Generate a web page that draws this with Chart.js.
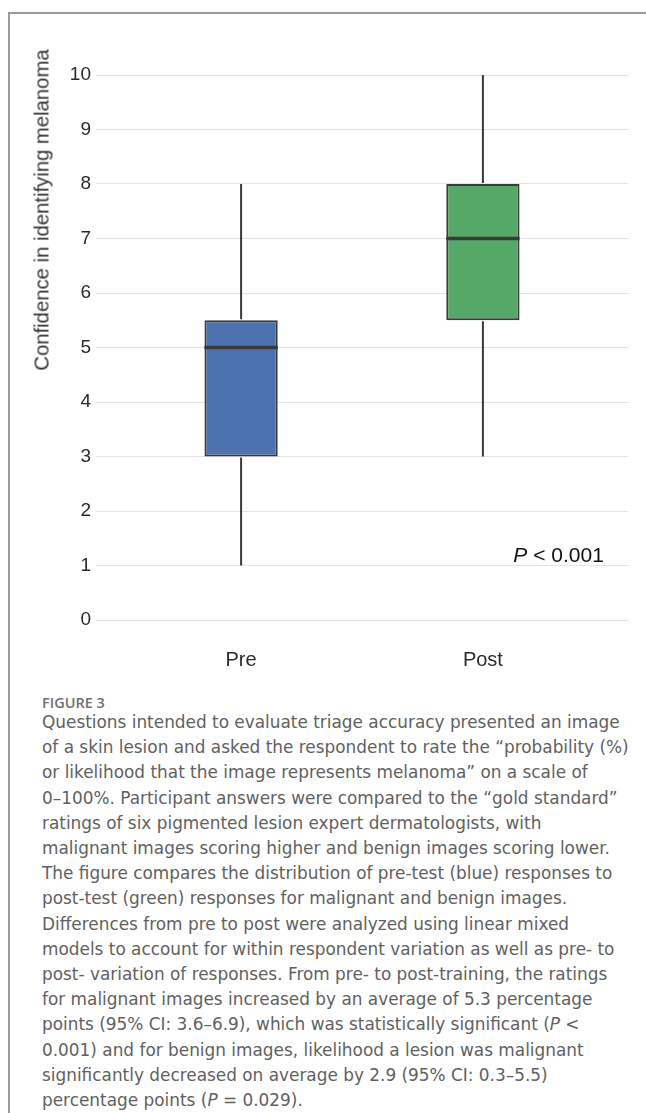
<!DOCTYPE html>
<html>
<head>
<meta charset="utf-8">
<script src="https://cdn.jsdelivr.net/npm/chart.js@4.4.1/dist/chart.umd.min.js"></script>
<style>
  html, body { margin: 0; padding: 0; background: #ffffff; }
  body { width: 646px; height: 1113px; position: relative; overflow: hidden; }
  #frame { position: absolute; left: 8px; top: 12px; width: 700px; height: 1200px;
           border-left: 2px solid #9a9a9a; border-top: 2px solid #9a9a9a; }
  #wrap { position: absolute; left: 0; top: 0; width: 646px; height: 690px; }
  #ytitle { position: absolute; left: 41.5px; top: 209.5px; white-space: nowrap;
            transform: translate(-50%, -50%) rotate(-90deg);
            font-family: "Liberation Sans", Arial, sans-serif; font-weight: 400; font-size: 20.3px; color: #333; }
  #figlabel { position: absolute; left: 42px; top: 695px; font-family: "Open Sans", sans-serif;
              font-weight: 600; font-size: 14.5px; line-height: 16px; color: #707070; }
  #caption { position: absolute; left: 42px; top: 710px; font-family: "DejaVu Sans", sans-serif;
             font-weight: 400; font-size: 16.9px; line-height: 25.2px; color: #616161; }
  #caption div { white-space: nowrap; }
</style>
</head>
<body>
<div id="frame"></div>
<div id="wrap"><canvas id="c" width="646" height="690"></canvas></div>
<div id="ytitle">Confidence in identifying melanoma</div>
<div id="figlabel">FIGURE 3</div>
<div id="caption">
<div>Questions intended to evaluate triage accuracy presented an image</div>
<div>of a skin lesion and asked the respondent to rate the “probability (%)</div>
<div>or likelihood that the image represents melanoma” on a scale of</div>
<div>0–100%. Participant answers were compared to the “gold standard”</div>
<div>ratings of six pigmented lesion expert dermatologists, with</div>
<div>malignant images scoring higher and benign images scoring lower.</div>
<div>The figure compares the distribution of pre-test (blue) responses to</div>
<div>post-test (green) responses for malignant and benign images.</div>
<div>Differences from pre to post were analyzed using linear mixed</div>
<div>models to account for within respondent variation as well as pre- to</div>
<div>post- variation of responses. From pre- to post-training, the ratings</div>
<div>for malignant images increased by an average of 5.3 percentage</div>
<div>points (95% CI: 3.6–6.9), which was statistically significant (<i>P</i> &lt;</div>
<div>0.001) and for benign images, likelihood a lesion was malignant</div>
<div>significantly decreased on average by 2.9 (95% CI: 0.3–5.5)</div>
<div>percentage points (<i>P</i> = 0.029).</div>
</div>
<script>
// ---- data ----
const categories = ['Pre', 'Post'];
const positions = [1, 2];
const whiskerLow = [1, 3];
const q1 = [3, 5.5];
const median = [5, 7];
const q3 = [5.5, 8];
const whiskerHigh = [8, 10];
const boxColors = ['#4C72B0', '#55A868'];
const yTicks = [0, 1, 2, 3, 4, 5, 6, 7, 8, 9, 10];
const pValueItalic = 'P';
const pValueRest = ' < 0.001';
const pValuePos = { x: 2.5, y: 1 };

const edgeColor = '#3a3a3a';

const boxData = positions.map((p, i) => ({ x: p, y: [q1[i], q3[i]] }));

const boxPlugin = {
  id: 'boxExtras',
  afterDatasetsDraw(chart) {
    const ctx = chart.ctx;
    const ys = chart.scales.y;
    const xs = chart.scales.x;
    const meta = chart.getDatasetMeta(0);
    ctx.save();
    meta.data.forEach((bar, i) => {
      const cx = bar.x;
      const half = bar.width / 2;
      ctx.strokeStyle = edgeColor;
      ctx.lineCap = 'butt';
      ctx.lineWidth = 2;
      ctx.beginPath();
      ctx.moveTo(cx, ys.getPixelForValue(whiskerLow[i]));
      ctx.lineTo(cx, ys.getPixelForValue(q1[i]) + 1);
      ctx.moveTo(cx, ys.getPixelForValue(q3[i]) - 1);
      ctx.lineTo(cx, ys.getPixelForValue(whiskerHigh[i]));
      ctx.stroke();
      ctx.lineWidth = 3.5;
      ctx.beginPath();
      const my = ys.getPixelForValue(median[i]);
      ctx.moveTo(cx - half, my);
      ctx.lineTo(cx + half, my);
      ctx.stroke();
    });
    // p-value annotation
    const px = xs.getPixelForValue(pValuePos.x);
    const py = ys.getPixelForValue(pValuePos.y) - 4;
    ctx.fillStyle = '#111';
    ctx.textBaseline = 'alphabetic';
    ctx.font = '21px "Liberation Sans", Arial, sans-serif';
    const wRest = ctx.measureText(pValueRest).width;
    ctx.textAlign = 'right';
    ctx.fillText(pValueRest, px, py);
    ctx.font = 'italic 21px "Liberation Sans", Arial, sans-serif';
    ctx.fillText(pValueItalic, px - wRest, py);
    ctx.restore();
  }
};

new Chart(document.getElementById('c'), {
  type: 'bar',
  data: {
    datasets: [{
      data: boxData,
      backgroundColor: boxColors,
      borderColor: edgeColor,
      borderWidth: 2,
      borderSkipped: false,
      barPercentage: 0.303,
      categoryPercentage: 1.0
    }]
  },
  options: {
    responsive: false,
    animation: false,
    devicePixelRatio: 1,
    layout: { padding: { top: 75, right: 18, left: 0, bottom: 0 } },
    plugins: { legend: { display: false }, tooltip: { enabled: false } },
    scales: {
      x: {
        type: 'linear',
        offset: false,
        min: 0.4,
        max: 2.6,
        afterBuildTicks(scale) { scale.ticks = positions.map(v => ({ value: v })); },
        afterFit(scale) { scale.height = 70; },
        grid: { display: false, offset: false },
        border: { display: false },
        ticks: {
          padding: 20,
          minRotation: 0,
          maxRotation: 0,
          color: '#2b2b2b',
          font: { family: '"Liberation Sans", Arial, sans-serif', size: 20 },
          callback(v) { const i = positions.indexOf(v); return i >= 0 ? categories[i] : ''; }
        }
      },
      y: {
        type: 'linear',
        min: 0,
        max: 10,
        afterBuildTicks(scale) { scale.ticks = yTicks.map(v => ({ value: v })); },
        afterFit(scale) { scale.width = 96; },
        grid: { color: '#e3e3e3', lineWidth: 1, drawTicks: false },
        border: { display: false },
        ticks: {
          padding: 5,
          minRotation: 0,
          maxRotation: 0,
          color: '#2b2b2b',
          font: { family: '"Liberation Sans", Arial, sans-serif', size: 19 }
        }
      }
    }
  },
  plugins: [boxPlugin]
});
</script>
</body>
</html>
